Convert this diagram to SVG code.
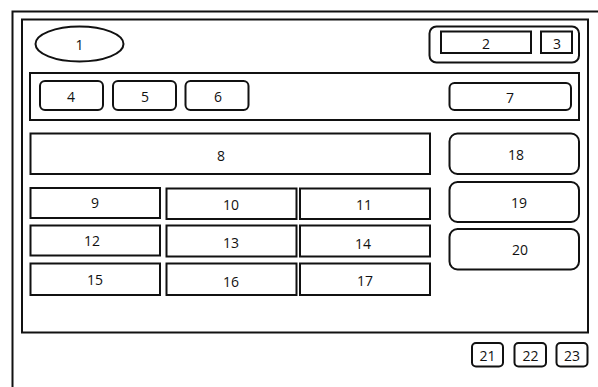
<svg xmlns="http://www.w3.org/2000/svg" width="598" height="387" viewBox="0 0 598 387">
<style>
.f{fill:#fff;stroke:#111;stroke-width:2}
.l{font-family:"Open Sans","Noto Sans",sans-serif;font-size:14px;fill:#111;text-anchor:middle;dominant-baseline:central}
</style>
<rect width="598" height="387" fill="#fff"/>
<g id="frame">
<path d="M12.5,387 V11.5 H598" fill="none" stroke="#111" stroke-width="2"/>
<rect x="22" y="19.5" width="566" height="313" class="f"/>
</g>
<g id="n1"><ellipse cx="79.5" cy="44" rx="44" ry="17.5" class="f"/><text x="79.5" y="44" class="l">1</text></g>
<g id="g23"><rect x="429.5" y="26.5" width="149.5" height="36" rx="7" class="f"/></g>
<g id="n2"><rect x="441" y="31.5" width="90" height="21.5" class="f"/><text x="486" y="43" class="l">2</text></g>
<g id="n3"><rect x="541" y="31.5" width="31" height="21.5" class="f"/><text x="557" y="43" class="l">3</text></g>
<g id="toolbar"><rect x="30" y="73" width="549" height="47" class="f"/></g>
<g id="n4"><rect x="40" y="81" width="63" height="29" rx="5" class="f"/><text x="71" y="96.5" class="l">4</text></g>
<g id="n5"><rect x="113" y="81" width="63" height="29" rx="5" class="f"/><text x="145" y="96" class="l">5</text></g>
<g id="n6"><rect x="185.5" y="81" width="63" height="29" rx="5" class="f"/><text x="218" y="96" class="l">6</text></g>
<g id="n7"><rect x="449.5" y="83" width="121.5" height="27" rx="5" class="f"/><text x="510" y="97" class="l">7</text></g>
<g id="n8"><rect x="30.5" y="133.5" width="399.5" height="40.5" class="f"/><text x="221" y="155" class="l">8</text></g>
<g id="n9"><rect x="30.5" y="188" width="129.5" height="30" class="f"/><text x="95" y="202" class="l">9</text></g>
<g id="n10"><rect x="166.5" y="188.5" width="130" height="30.5" class="f"/><text x="231" y="204" class="l">10</text></g>
<g id="n11"><rect x="300" y="188.5" width="130" height="30.5" class="f"/><text x="364" y="204" class="l">11</text></g>
<g id="n12"><rect x="30.5" y="225.5" width="129.5" height="30" class="f"/><text x="92" y="240" class="l">12</text></g>
<g id="n13"><rect x="166.5" y="225.5" width="130" height="31" class="f"/><text x="231" y="242" class="l">13</text></g>
<g id="n14"><rect x="300" y="225.5" width="130" height="31" class="f"/><text x="363" y="243" class="l">14</text></g>
<g id="n15"><rect x="30.5" y="263.5" width="129.5" height="31.5" class="f"/><text x="95" y="279" class="l">15</text></g>
<g id="n16"><rect x="166.5" y="263.5" width="130" height="31.5" class="f"/><text x="231" y="281" class="l">16</text></g>
<g id="n17"><rect x="300" y="263.5" width="130" height="31.5" class="f"/><text x="365" y="280" class="l">17</text></g>
<g id="n18"><rect x="449.5" y="133.5" width="129.5" height="40.5" rx="8" class="f"/><text x="516" y="154" class="l">18</text></g>
<g id="n19"><rect x="449.5" y="182" width="129.5" height="40" rx="8" class="f"/><text x="519" y="202" class="l">19</text></g>
<g id="n20"><rect x="449.5" y="229" width="129.5" height="40.5" rx="8" class="f"/><text x="520" y="249" class="l">20</text></g>
<g id="n21"><rect x="472" y="343" width="31" height="23.5" rx="4" class="f"/><text x="487.5" y="355" class="l">21</text></g>
<g id="n22"><rect x="514.5" y="343" width="31.5" height="23.5" rx="4" class="f"/><text x="530.5" y="355" class="l">22</text></g>
<g id="n23"><rect x="556.5" y="343" width="31" height="23.5" rx="4" class="f"/><text x="572" y="355" class="l">23</text></g>
<g id="connectors"></g>
</svg>
